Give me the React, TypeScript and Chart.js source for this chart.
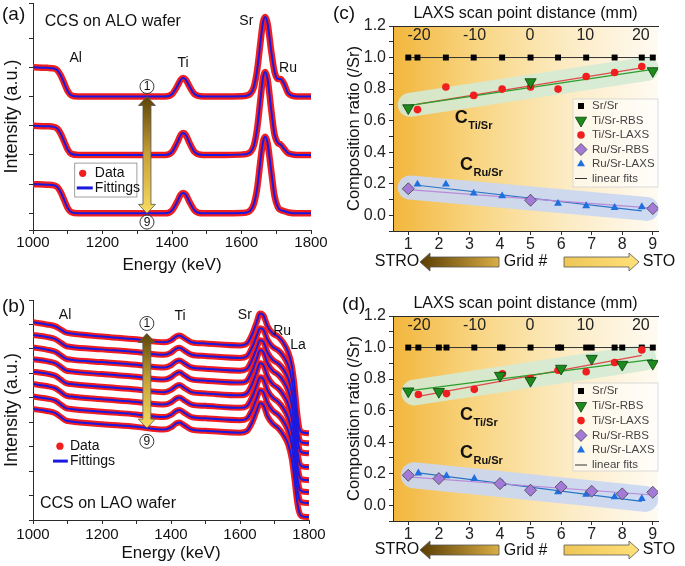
import React, { useEffect, useRef } from "react";
import { Chart, registerables } from "chart.js";

Chart.register(...registerables);

const FONT = '"Liberation Sans", Arial, Helvetica, sans-serif';
const AX = "#2b2b2b";
const RED = "rgb(240,30,30)";
const BLUE = "rgb(25,25,225)";

// ================= Panel (a): CCS on ALO wafer (stacked spectra, arb. units) =================
const ENERGY_A = [1000, 1040, 1060, 1070, 1080, 1090, 1100, 1110, 1130, 1200, 1300, 1380, 1400, 1415, 1425, 1432, 1440, 1450, 1465, 1490, 1550, 1600, 1620, 1635, 1645, 1655, 1662, 1668, 1675, 1685, 1695, 1705, 1712, 1722, 1735, 1760, 1800];
const A_SPEC_1 = [5.0, 4.98, 4.96, 4.9, 4.72, 4.45, 4.18, 4.04, 4.0, 4.0, 4.0, 4.0, 4.08, 4.35, 4.57, 4.63, 4.57, 4.35, 4.08, 4.0, 4.0, 4.01, 4.05, 4.3, 4.9, 5.9, 6.55, 6.72, 6.5, 5.6, 4.85, 4.6, 4.6, 4.45, 4.1, 4.0, 4.0];
const A_SPEC_2 = [3.0, 2.98, 2.96, 2.9, 2.72, 2.45, 2.18, 2.04, 2.0, 2.0, 2.0, 2.0, 2.1, 2.42, 2.68, 2.75, 2.68, 2.42, 2.1, 2.0, 2.0, 2.01, 2.05, 2.3, 2.9, 3.95, 4.65, 4.84, 4.6, 3.6, 2.7, 2.4, 2.36, 2.22, 2.05, 2.0, 2.0];
const A_SPEC_3 = [1.0, 0.98, 0.96, 0.9, 0.72, 0.45, 0.18, 0.04, 0.0, 0.0, 0.0, 0.0, 0.1, 0.4, 0.64, 0.7, 0.64, 0.4, 0.1, 0.0, 0.0, 0.01, 0.05, 0.3, 0.85, 1.85, 2.45, 2.62, 2.4, 1.5, 0.6, 0.2, 0.12, 0.08, 0.03, 0.0, 0.0];

// ================= Panel (b): CCS on LAO wafer (stacked spectra, arb. units) =================
const ENERGY_B = [1000, 1040, 1065, 1080, 1095, 1110, 1200, 1300, 1380, 1400, 1415, 1425, 1440, 1460, 1500, 1600, 1620, 1635, 1648, 1658, 1668, 1680, 1695, 1710, 1725, 1740, 1750, 1758, 1765, 1772, 1780, 1800];
const B_SPEC_1 = [8.09, 8.0, 7.92, 7.8, 7.67, 7.63, 7.51, 7.39, 7.27, 7.35, 7.51, 7.55, 7.43, 7.27, 7.22, 7.14, 7.22, 7.59, 8.08, 8.45, 8.37, 7.92, 7.63, 7.51, 7.27, 6.86, 6.33, 5.51, 4.49, 3.76, 3.59, 3.55];
const B_SPEC_2 = [7.57, 7.49, 7.4, 7.26, 7.12, 7.08, 6.98, 6.87, 6.76, 6.85, 7.01, 7.05, 6.92, 6.76, 6.71, 6.63, 6.7, 7.06, 7.52, 7.84, 7.78, 7.36, 7.08, 6.95, 6.72, 6.32, 5.75, 4.9, 3.95, 3.3, 3.17, 3.14];
const B_SPEC_3 = [7.06, 6.97, 6.88, 6.74, 6.6, 6.56, 6.46, 6.35, 6.24, 6.33, 6.49, 6.53, 6.4, 6.24, 6.19, 6.11, 6.18, 6.55, 7.01, 7.35, 7.28, 6.84, 6.55, 6.41, 6.18, 5.78, 5.22, 4.4, 3.5, 2.9, 2.76, 2.73];
const B_SPEC_4 = [6.58, 6.5, 6.41, 6.27, 6.12, 6.08, 5.97, 5.86, 5.75, 5.84, 6.0, 6.04, 5.91, 5.75, 5.7, 5.62, 5.7, 6.08, 6.58, 6.94, 6.86, 6.4, 6.1, 5.95, 5.7, 5.28, 4.7, 3.85, 2.95, 2.35, 2.2, 2.16];
const B_SPEC_5 = [6.07, 5.99, 5.9, 5.75, 5.6, 5.56, 5.45, 5.34, 5.23, 5.32, 5.48, 5.52, 5.39, 5.23, 5.18, 5.1, 5.18, 5.56, 6.05, 6.41, 6.33, 5.86, 5.55, 5.4, 5.14, 4.72, 4.15, 3.3, 2.42, 1.8, 1.66, 1.63];
const B_SPEC_6 = [5.56, 5.48, 5.39, 5.24, 5.09, 5.05, 4.94, 4.83, 4.72, 4.81, 4.97, 5.01, 4.88, 4.72, 4.67, 4.59, 4.66, 5.02, 5.5, 5.84, 5.76, 5.3, 5.0, 4.84, 4.58, 4.17, 3.6, 2.75, 1.9, 1.3, 1.17, 1.14];
const B_SPEC_7 = [5.05, 4.97, 4.88, 4.73, 4.58, 4.54, 4.43, 4.32, 4.21, 4.3, 4.46, 4.5, 4.37, 4.21, 4.16, 4.08, 4.15, 4.5, 4.97, 5.31, 5.23, 4.77, 4.47, 4.31, 4.05, 3.64, 3.08, 2.25, 1.4, 0.85, 0.72, 0.69];
const B_SPEC_8 = [4.54, 4.46, 4.37, 4.22, 4.07, 4.03, 3.92, 3.81, 3.7, 3.79, 3.95, 3.99, 3.86, 3.7, 3.65, 3.57, 3.64, 3.98, 4.45, 4.78, 4.7, 4.24, 3.94, 3.77, 3.5, 3.08, 2.5, 1.65, 0.8, 0.3, 0.15, 0.12];

// ================= Panel (c): composition ratios, CCS on ALO =================
const C_SR_GRID = [1, 1.3, 2.23, 3.14, 4.07, 5, 5.9, 6.82, 7.75, 8.64, 9];
const C_SR = [1, 1, 1, 1, 1, 1, 1, 1, 1, 1, 1];
const C_RBS_GRID = [1, 5, 9];
const C_TI_RBS = [0.68, 0.845, 0.915];
const C_RU_RBS = [0.168, 0.095, 0.042];
const C_LAXS_GRID = [1.3, 2.23, 3.14, 4.07, 5.0, 5.9, 6.82, 7.75, 8.64];
const C_TI_LAXS = [0.67, 0.813, 0.76, 0.8, 0.813, 0.8, 0.88, 0.905, 0.943];
const C_RU_LAXS = [0.196, 0.196, 0.139, 0.122, 0.105, 0.074, 0.059, 0.048, 0.053];
const C_FIT_RBS_GRID = [1, 9];
const C_FIT_TI_RBS = [0.695, 0.925];
const C_FIT_RU_RBS = [0.163, 0.045];
const C_FIT_LAXS_GRID = [1.3, 8.64];
const C_FIT_TI_LAXS = [0.705, 0.935];
const C_FIT_RU_LAXS = [0.19, 0.028];

// ================= Panel (d): composition ratios, CCS on LAO =================
const D_SR_GRID = [1, 1.33, 2, 2.25, 3.16, 4, 4.08, 5, 5.9, 6, 6.82, 7, 7.75, 8, 8.64, 9];
const D_SR = [1, 1, 1, 1, 1, 1, 1, 1, 1, 1, 1, 1, 1, 1, 1, 1];
const D_RBS_GRID = [1, 2, 4, 5, 6, 7, 8, 9];
const D_TI_RBS = [0.723, 0.72, 0.822, 0.79, 0.867, 0.93, 0.892, 0.898];
const D_RU_RBS = [0.19, 0.169, 0.137, 0.095, 0.116, 0.089, 0.072, 0.082];
const D_LAXS_GRID = [1.33, 2.25, 3.16, 4.08, 5.0, 5.9, 6.82, 7.75, 8.64];
const D_TI_LAXS = [0.702, 0.708, 0.735, 0.833, 0.803, 0.856, 0.846, 0.905, 0.985];
const D_RU_LAXS = [0.203, 0.186, 0.169, 0.137, 0.106, 0.085, 0.068, 0.053, 0.042];
const D_FIT_RBS_GRID = [1, 9];
const D_FIT_TI_RBS = [0.725, 0.925];
const D_FIT_RU_RBS = [0.18, 0.065];
const D_FIT_LAXS_GRID = [1.33, 8.64];
const D_FIT_TI_LAXS = [0.69, 0.95];
const D_FIT_RU_LAXS = [0.205, 0.025];

const LEGEND_LABELS = ["Sr/Sr", "Ti/Sr-RBS", "Ti/Sr-LAXS", "Ru/Sr-RBS", "Ru/Sr-LAXS", "linear fits"];

// ================= drawing helpers =================
type Ctx = CanvasRenderingContext2D;

function txt(ctx: Ctx, s: string, x: number, y: number, size: number, align: CanvasTextAlign = "center", bold = false, color = "#111") {
  ctx.font = `${bold ? "bold " : ""}${size}px ${FONT}`;
  ctx.fillStyle = color;
  ctx.textAlign = align;
  ctx.textBaseline = "middle";
  ctx.fillText(s, x, y);
}

function circled(ctx: Ctx, x: number, y: number, s: string) {
  ctx.beginPath();
  ctx.arc(x, y, 7, 0, Math.PI * 2);
  ctx.fillStyle = "#fff";
  ctx.fill();
  ctx.lineWidth = 0.9;
  ctx.strokeStyle = "#222";
  ctx.stroke();
  txt(ctx, s, x, y + 0.5, 12);
}

function vArrow(ctx: Ctx, x: number, y1: number, y2: number) {
  const hw = 4, hh = 9, headW = 8.5;
  const g = ctx.createLinearGradient(0, y1, 0, y2);
  g.addColorStop(0, "#5c4306");
  g.addColorStop(0.5, "#c9a13a");
  g.addColorStop(1, "#f8dc62");
  ctx.beginPath();
  ctx.moveTo(x, y1);
  ctx.lineTo(x + headW, y1 + hh);
  ctx.lineTo(x + hw, y1 + hh);
  ctx.lineTo(x + hw, y2 - hh);
  ctx.lineTo(x + headW, y2 - hh);
  ctx.lineTo(x, y2);
  ctx.lineTo(x - headW, y2 - hh);
  ctx.lineTo(x - hw, y2 - hh);
  ctx.lineTo(x - hw, y1 + hh);
  ctx.lineTo(x - headW, y1 + hh);
  ctx.closePath();
  ctx.fillStyle = g;
  ctx.fill();
  ctx.strokeStyle = "#555";
  ctx.lineWidth = 0.8;
  ctx.stroke();
}

function hArrow(ctx: Ctx, xTail: number, xTip: number, y: number, cTail: string, cTip: string) {
  const dir = xTip > xTail ? 1 : -1;
  const bh = 5, hh = 9, hl = 10;
  const xn = xTip - dir * hl;
  const g = ctx.createLinearGradient(xTail, 0, xTip, 0);
  g.addColorStop(0, cTail);
  g.addColorStop(1, cTip);
  ctx.beginPath();
  ctx.moveTo(xTail, y - bh);
  ctx.lineTo(xn, y - bh);
  ctx.lineTo(xn, y - hh);
  ctx.lineTo(xTip, y);
  ctx.lineTo(xn, y + hh);
  ctx.lineTo(xn, y + bh);
  ctx.lineTo(xTail, y + bh);
  ctx.closePath();
  ctx.fillStyle = g;
  ctx.fill();
  ctx.strokeStyle = "#555";
  ctx.lineWidth = 0.8;
  ctx.stroke();
}

function poly(ctx: Ctx, pts: number[][], fill: string, stroke?: string) {
  ctx.beginPath();
  pts.forEach((p, i) => (i ? ctx.lineTo(p[0], p[1]) : ctx.moveTo(p[0], p[1])));
  ctx.closePath();
  ctx.fillStyle = fill;
  ctx.fill();
  if (stroke) {
    ctx.strokeStyle = stroke;
    ctx.lineWidth = 0.8;
    ctx.stroke();
  }
}

// ================= spectra panels =================
function energyAxis(height: number, tickPad: number, titlePad: number): any {
  return {
    type: "linear",
    min: 1000,
    max: 1800,
    ticks: {
      stepSize: 100,
      autoSkip: false,
      maxRotation: 0,
      padding: tickPad,
      color: "#111",
      font: { family: FONT, size: 15 },
      callback: (v: number) => (v % 200 === 0 ? String(v) : ""),
    },
    grid: { drawOnChartArea: false, tickLength: 4, color: AX },
    border: { color: AX },
    title: { display: true, text: "Energy (keV)", color: "#111", font: { family: FONT, size: 17 }, padding: { top: 0, bottom: titlePad } },
    afterFit: (s: any) => {
      s.height = height;
    },
  };
}

function intensityAxis(min: number, max: number, width: number, titlePad: number): any {
  return {
    type: "linear",
    min,
    max,
    ticks: { display: false, stepSize: 1 },
    grid: { drawOnChartArea: false, tickLength: 4, color: AX },
    border: { color: AX },
    title: { display: true, text: "Intensity (a.u.)", color: "#111", font: { family: FONT, size: 18 }, padding: { top: titlePad, bottom: 0 } },
    afterFit: (s: any) => {
      s.width = width;
    },
  };
}

function spectrumDatasets(energies: number[], curves: number[][], dataW: number, fitW: number) {
  const ds: any[] = [];
  curves.forEach((c, i) => {
    ds.push({
      label: "Fittings " + (i + 1),
      data: energies.map((e, j) => ({ x: e, y: c[j] })),
      borderColor: BLUE,
      borderWidth: fitW,
      pointRadius: 0,
      cubicInterpolationMode: "monotone",
      order: 0,
    });
    ds.push({
      label: "Data " + (i + 1),
      data: energies.map((e, j) => ({ x: e, y: c[j] })),
      borderColor: RED,
      borderWidth: dataW,
      pointRadius: 0,
      cubicInterpolationMode: "monotone",
      order: 1,
    });
  });
  return ds;
}

function spectrumLegend(ctx: Ctx, X: (v: number) => number, Y: (v: number) => number, box: number[] | null, dot: number[], line: number[], textX: number) {
  if (box) {
    ctx.fillStyle = "#fff";
    ctx.fillRect(X(box[0]), Y(box[1]), X(box[2]) - X(box[0]), Y(box[3]) - Y(box[1]));
    ctx.strokeStyle = "#888";
    ctx.lineWidth = 0.8;
    ctx.strokeRect(X(box[0]), Y(box[1]), X(box[2]) - X(box[0]), Y(box[3]) - Y(box[1]));
  }
  ctx.beginPath();
  ctx.arc(X(dot[0]), Y(dot[1]), 3.6, 0, Math.PI * 2);
  ctx.fillStyle = RED;
  ctx.fill();
  txt(ctx, "Data", X(textX), Y(dot[1]), 14, "left");
  ctx.beginPath();
  ctx.moveTo(X(line[0]), Y(line[2]));
  ctx.lineTo(X(line[1]), Y(line[2]));
  ctx.strokeStyle = BLUE;
  ctx.lineWidth = 3;
  ctx.stroke();
  txt(ctx, "Fittings", X(textX), Y(line[2]), 14, "left");
}

const panelAPlugin = {
  id: "panelA",
  afterDatasetsDraw(chart: any) {
    const ctx: Ctx = chart.ctx;
    const X = (v: number) => chart.scales.x.getPixelForValue(v);
    const Y = (v: number) => chart.scales.y.getPixelForValue(v);
    ctx.save();
    txt(ctx, "(a)", 2, 15, 19, "left");
    txt(ctx, "CCS on ALO wafer", X(1034), Y(6.55), 16, "left");
    txt(ctx, "Al", X(1123), Y(5.32), 14);
    txt(ctx, "Ti", X(1432), Y(5.14), 14);
    txt(ctx, "Sr", X(1614), Y(6.58), 14);
    txt(ctx, "Ru", X(1734), Y(4.98), 14);
    vArrow(ctx, X(1328), Y(4), Y(0));
    circled(ctx, X(1328), Y(4.34), "1");
    circled(ctx, X(1328), Y(-0.3), "9");
    spectrumLegend(ctx, X, Y, [1120, 1.72, 1299, 0.56], [1143, 1.37], [1126, 1172, 0.87], 1178);
    ctx.restore();
  },
};

const panelBPlugin = {
  id: "panelB",
  afterDatasetsDraw(chart: any) {
    const ctx: Ctx = chart.ctx;
    const X = (v: number) => chart.scales.x.getPixelForValue(v);
    const Y = (v: number) => chart.scales.y.getPixelForValue(v);
    ctx.save();
    txt(ctx, "(b)", 2, 24, 19, "left");
    txt(ctx, "Al", X(1093), Y(8.37), 14);
    txt(ctx, "Ti", X(1426), Y(8.32), 14);
    txt(ctx, "Sr", X(1614), Y(8.37), 14);
    txt(ctx, "Ru", X(1722), Y(7.71), 14);
    txt(ctx, "La", X(1768), Y(7.14), 14);
    txt(ctx, "CCS on LAO wafer", X(1020), Y(0.67), 16, "left");
    vArrow(ctx, X(1330), Y(7.63), Y(3.76));
    circled(ctx, X(1330), Y(8.04), "1");
    circled(ctx, X(1330), Y(3.22), "9");
    spectrumLegend(ctx, X, Y, null, [1078, 3.02], [1058, 1101, 2.41], 1107);
    ctx.restore();
  },
};

function configA(): any {
  return {
    type: "line",
    data: { datasets: spectrumDatasets(ENERGY_A, [A_SPEC_1, A_SPEC_2, A_SPEC_3], 6.5, 2) },
    options: {
      animation: false,
      responsive: false,
      events: [],
      layout: { padding: { top: 3, right: 32, bottom: 0, left: 0 } },
      plugins: { legend: { display: false }, tooltip: { enabled: false } },
      scales: { x: energyAxis(53, 0, 7.8), y: intensityAxis(-0.57, 7.2, 33, 1.2) },
    },
    plugins: [panelAPlugin],
  };
}

function configB(): any {
  return {
    type: "line",
    data: {
      datasets: spectrumDatasets(ENERGY_B, [B_SPEC_1, B_SPEC_2, B_SPEC_3, B_SPEC_4, B_SPEC_5, B_SPEC_6, B_SPEC_7, B_SPEC_8], 6, 2),
    },
    options: {
      animation: false,
      responsive: false,
      events: [],
      layout: { padding: { top: 17, right: 34, bottom: 0, left: 0 } },
      plugins: { legend: { display: false }, tooltip: { enabled: false } },
      scales: { x: energyAxis(46, 1.5, 2.8), y: intensityAxis(0, 9, 33, 1.2) },
    },
    plugins: [panelBPlugin],
  };
}

// ================= ratio panels =================
interface RatioPanel {
  tag: string;
  tagX: number;
  tagY: number;
  srGrid: number[];
  sr: number[];
  rbsGrid: number[];
  tiRbs: number[];
  ruRbs: number[];
  laxsGrid: number[];
  tiLaxs: number[];
  ruLaxs: number[];
  fitRbsGrid: number[];
  fitTiRbs: number[];
  fitRuRbs: number[];
  fitLaxsGrid: number[];
  fitTiLaxs: number[];
  fitRuLaxs: number[];
  bandTi: number[];
  bandRu: number[];
  bandR: number;
  legendTop: number;
  legendFirst: number;
  legendStep: number;
  legendH: number;
  cTi: number[];
  cRu: number[];
  bottomH: number;
  gridTitlePad: number;
  rowY: number;
}

const PANEL_C: RatioPanel = {
  tag: "(c)", tagX: 8, tagY: 14,
  srGrid: C_SR_GRID, sr: C_SR,
  rbsGrid: C_RBS_GRID, tiRbs: C_TI_RBS, ruRbs: C_RU_RBS,
  laxsGrid: C_LAXS_GRID, tiLaxs: C_TI_LAXS, ruLaxs: C_RU_LAXS,
  fitRbsGrid: C_FIT_RBS_GRID, fitTiRbs: C_FIT_TI_RBS, fitRuRbs: C_FIT_RU_RBS,
  fitLaxsGrid: C_FIT_LAXS_GRID, fitTiLaxs: C_FIT_TI_LAXS, fitRuLaxs: C_FIT_RU_LAXS,
  bandTi: [1.05, 0.7, 8.8, 0.928], bandRu: [1.05, 0.176, 8.8, 0.04], bandR: 12,
  legendTop: 73, legendFirst: 7, legendStep: 14.5, legendH: 88,
  cTi: [2.52, 0.617], cRu: [2.69, 0.319],
  bottomH: 52, gridTitlePad: 11.8, rowY: 262,
};

const PANEL_D: RatioPanel = {
  tag: "(d)", tagX: 17, tagY: 15,
  srGrid: D_SR_GRID, sr: D_SR,
  rbsGrid: D_RBS_GRID, tiRbs: D_TI_RBS, ruRbs: D_RU_RBS,
  laxsGrid: D_LAXS_GRID, tiLaxs: D_TI_LAXS, ruLaxs: D_RU_LAXS,
  fitRbsGrid: D_FIT_RBS_GRID, fitTiRbs: D_FIT_TI_RBS, fitRuRbs: D_FIT_RU_RBS,
  fitLaxsGrid: D_FIT_LAXS_GRID, fitTiLaxs: D_FIT_TI_LAXS, fitRuLaxs: D_FIT_RU_LAXS,
  bandTi: [1.2, 0.715, 8.68, 0.935], bandRu: [1.18, 0.19, 8.75, 0.04], bandR: 13,
  legendTop: 67, legendFirst: 8, legendStep: 14.8, legendH: 88,
  cTi: [2.69, 0.574], cRu: [2.69, 0.331],
  bottomH: 45, gridTitlePad: 5.8, rowY: 260,
};

const GREEN_FILL = "#1d8a1d";
const GREEN_EDGE = "#0b3f0b";
const PURPLE_FILL = "#a47ad8";
const LAXS_BLUE = "#1f6fe0";

function ratioPlugin(p: RatioPanel) {
  return {
    id: "ratio" + p.tag,
    beforeDraw(chart: any) {
      const { ctx, chartArea: a } = chart;
      const g = ctx.createLinearGradient(a.left, 0, a.right, 0);
      g.addColorStop(0, "#f2b63c");
      g.addColorStop(0.3, "#f8d47f");
      g.addColorStop(0.65, "#fcebc2");
      g.addColorStop(1, "#fffbf3");
      ctx.save();
      ctx.fillStyle = g;
      ctx.fillRect(a.left, a.top, a.right - a.left, a.bottom - a.top);
      ctx.restore();
    },
    beforeDatasetsDraw(chart: any) {
      const ctx: Ctx = chart.ctx;
      const X = (v: number) => chart.scales.x.getPixelForValue(v);
      const Y = (v: number) => chart.scales.y.getPixelForValue(v);
      ctx.save();
      ctx.lineCap = "round";
      const band = (b: number[], color: string) => {
        ctx.beginPath();
        ctx.moveTo(X(b[0]), Y(b[1]));
        ctx.lineTo(X(b[2]), Y(b[3]));
        ctx.strokeStyle = color;
        ctx.lineWidth = p.bandR * 2;
        ctx.stroke();
      };
      band(p.bandTi, "rgba(212,234,212,0.9)");
      band(p.bandRu, "rgba(202,215,242,0.92)");
      ctx.restore();
    },
    afterDatasetsDraw(chart: any) {
      const ctx: Ctx = chart.ctx;
      const a = chart.chartArea;
      const X = (v: number) => chart.scales.x.getPixelForValue(v);
      const Y = (v: number) => chart.scales.y.getPixelForValue(v);
      ctx.save();
      // legend
      const bx = a.left + 180;
      const by = a.top + p.legendTop;
      ctx.fillStyle = "rgba(255,255,255,0.55)";
      ctx.fillRect(bx, by, a.right - bx, p.legendH);
      ctx.strokeStyle = "#d2d2d2";
      ctx.lineWidth = 0.8;
      ctx.strokeRect(bx, by, a.right - bx, p.legendH);
      LEGEND_LABELS.forEach((lab, i) => {
        const y = by + p.legendFirst + i * p.legendStep;
        const mx = bx + 8;
        if (i === 0) {
          ctx.fillStyle = "#000";
          ctx.fillRect(mx - 3, y - 3, 6, 6);
        } else if (i === 1) {
          poly(ctx, [[mx, y + 6.5], [mx - 5.6, y - 3.3], [mx + 5.6, y - 3.3]], GREEN_FILL, GREEN_EDGE);
        } else if (i === 2) {
          ctx.beginPath();
          ctx.arc(mx, y, 3.8, 0, Math.PI * 2);
          ctx.fillStyle = RED;
          ctx.fill();
        } else if (i === 3) {
          poly(ctx, [[mx, y - 6], [mx + 6, y], [mx, y + 6], [mx - 6, y]], PURPLE_FILL, "#444");
        } else if (i === 4) {
          poly(ctx, [[mx, y - 4.6], [mx + 4, y + 2.3], [mx - 4, y + 2.3]], LAXS_BLUE);
        } else {
          ctx.beginPath();
          ctx.moveTo(mx - 6, y);
          ctx.lineTo(mx + 6, y);
          ctx.strokeStyle = "#333";
          ctx.lineWidth = 1;
          ctx.stroke();
        }
        txt(ctx, lab, bx + 19, y, 11.5, "left", false, "#444");
      });
      // C labels
      const cLabel = (pos: number[], sub: string) => {
        const x = X(pos[0]);
        const y = Y(pos[1]);
        txt(ctx, "C", x, y, 18, "left", true, "#111");
        ctx.font = `bold 18px ${FONT}`;
        const w = ctx.measureText("C").width;
        txt(ctx, sub, x + w + 0.5, y + 8, 11, "left", true, "#111");
      };
      cLabel(p.cTi, "Ti/Sr");
      cLabel(p.cRu, "Ru/Sr");
      // panel tag
      txt(ctx, p.tag, p.tagX, p.tagY, 19, "left");
      // bottom row
      const ry = p.rowY;
      txt(ctx, "STRO", a.left + 4, ry, 16);
      hArrow(ctx, a.left + 106, a.left + 27, ry, "#d9ae45", "#5a3d02");
      hArrow(ctx, a.left + 171, a.left + 246, ry, "#eec656", "#ffe07a");
      txt(ctx, "STO", a.right + 1, ry, 16);
      ctx.restore();
    },
  };
}

function configRatio(p: RatioPanel): any {
  const mk = (xs: number[], ys: number[]) => xs.map((x, i) => ({ x, y: ys[i] }));
  const datasets = [
    {
      label: "Sr/Sr", data: mk(p.srGrid, p.sr), showLine: true, borderColor: "#333", borderWidth: 1,
      pointStyle: "rect", pointRadius: 4.2, pointBackgroundColor: "#000", pointBorderColor: "#000", pointBorderWidth: 0, order: 1,
    },
    {
      label: "Ti/Sr-RBS", data: mk(p.rbsGrid, p.tiRbs), showLine: false,
      pointStyle: "triangle", pointRotation: 180, pointRadius: 6.5, pointBackgroundColor: GREEN_FILL, pointBorderColor: GREEN_EDGE, pointBorderWidth: 0.8, order: 0,
    },
    {
      label: "Ti/Sr-LAXS", data: mk(p.laxsGrid, p.tiLaxs), showLine: false,
      pointStyle: "circle", pointRadius: 3.8, pointBackgroundColor: RED, pointBorderColor: RED, pointBorderWidth: 0, order: 0,
    },
    {
      label: "Ru/Sr-RBS", data: mk(p.rbsGrid, p.ruRbs), showLine: false,
      pointStyle: "rectRot", pointRadius: 6, pointBackgroundColor: PURPLE_FILL, pointBorderColor: "#444", pointBorderWidth: 0.8, order: 0,
    },
    {
      label: "Ru/Sr-LAXS", data: mk(p.laxsGrid, p.ruLaxs), showLine: false,
      pointStyle: "triangle", pointRadius: 4.6, pointBackgroundColor: LAXS_BLUE, pointBorderColor: LAXS_BLUE, pointBorderWidth: 0, order: 0,
    },
    { label: "fit Ti RBS", data: mk(p.fitRbsGrid, p.fitTiRbs), borderColor: "#2c9e2c", borderWidth: 1.2, pointRadius: 0, order: 2 },
    { label: "fit Ti LAXS", data: mk(p.fitLaxsGrid, p.fitTiLaxs), borderColor: "#dd4a4a", borderWidth: 1.2, pointRadius: 0, order: 2 },
    { label: "fit Ru RBS", data: mk(p.fitRbsGrid, p.fitRuRbs), borderColor: "#b98ad8", borderWidth: 1.2, pointRadius: 0, order: 2 },
    { label: "fit Ru LAXS", data: mk(p.fitLaxsGrid, p.fitRuLaxs), borderColor: "#2a76c4", borderWidth: 1.2, pointRadius: 0, order: 2 },
  ];
  return {
    type: "line",
    data: { datasets },
    options: {
      animation: false,
      responsive: false,
      events: [],
      layout: { padding: { top: 0, right: 27, bottom: 0, left: 0 } },
      plugins: { legend: { display: false }, tooltip: { enabled: false } },
      scales: {
        x: {
          type: "linear", position: "bottom", min: 0.5, max: 9.17,
          ticks: { stepSize: 1, includeBounds: false, autoSkip: false, maxRotation: 0, padding: 0, color: "#222", font: { family: FONT, size: 16 } },
          grid: { drawOnChartArea: false, tickLength: 4, color: AX },
          border: { color: AX },
          title: { display: true, text: "Grid #", color: "#111", font: { family: FONT, size: 16 }, padding: { top: 0, bottom: p.gridTitlePad } },
          afterFit: (s: any) => {
            s.height = p.bottomH;
          },
        },
        x2: {
          type: "linear", position: "top", min: -24.7, max: 23.1,
          ticks: { stepSize: 10, includeBounds: false, mirror: true, padding: 0, maxRotation: 0, color: "#222", font: { family: FONT, size: 16 } },
          grid: { display: false },
          border: { color: AX },
          title: { display: true, text: "LAXS scan point distance (mm)", color: "#111", font: { family: FONT, size: 16 }, padding: { top: 4, bottom: 0 } },
          afterFit: (s: any) => {
            s.height = 26;
          },
        },
        y: {
          type: "linear", min: -0.1, max: 1.2,
          ticks: {
            stepSize: 0.1, autoSkip: false, padding: 3, color: "#222", font: { family: FONT, size: 16 },
            callback: (v: number) => (Math.round(v * 10) % 2 === 0 ? Number(v).toFixed(1) : ""),
          },
          grid: { drawOnChartArea: false, tickLength: 4, color: AX },
          border: { color: AX },
          title: { display: true, text: "Composition ratio (/Sr)", color: "#111", font: { family: FONT, size: 16.5 }, padding: { top: 20, bottom: 0 } },
          afterFit: (s: any) => {
            s.width = 68;
          },
        },
      },
    },
    plugins: [ratioPlugin(p)],
  };
}

export default function App() {
  const refA = useRef<HTMLCanvasElement>(null);
  const refB = useRef<HTMLCanvasElement>(null);
  const refC = useRef<HTMLCanvasElement>(null);
  const refD = useRef<HTMLCanvasElement>(null);

  useEffect(() => {
    const charts = [
      new Chart(refA.current as HTMLCanvasElement, configA()),
      new Chart(refB.current as HTMLCanvasElement, configB()),
      new Chart(refC.current as HTMLCanvasElement, configRatio(PANEL_C)),
      new Chart(refD.current as HTMLCanvasElement, configRatio(PANEL_D)),
    ];
    return () => charts.forEach((c) => c.destroy());
  }, []);

  const cs = (l: number, t: number, w: number, h: number): React.CSSProperties => ({
    position: "absolute", left: l, top: t, width: w, height: h,
  });

  return (
    <div style={{ position: "absolute", left: 0, top: 0, width: 685, height: 566, background: "#fff", overflow: "hidden" }}>
      <canvas ref={refA} width={343} height={283} style={cs(0, 0, 343, 283)} />
      <canvas ref={refB} width={343} height={283} style={cs(0, 283, 343, 283)} />
      <canvas ref={refC} width={360} height={283} style={cs(325, 0, 360, 283)} />
      <canvas ref={refD} width={360} height={276} style={cs(325, 290, 360, 276)} />
    </div>
  );
}
